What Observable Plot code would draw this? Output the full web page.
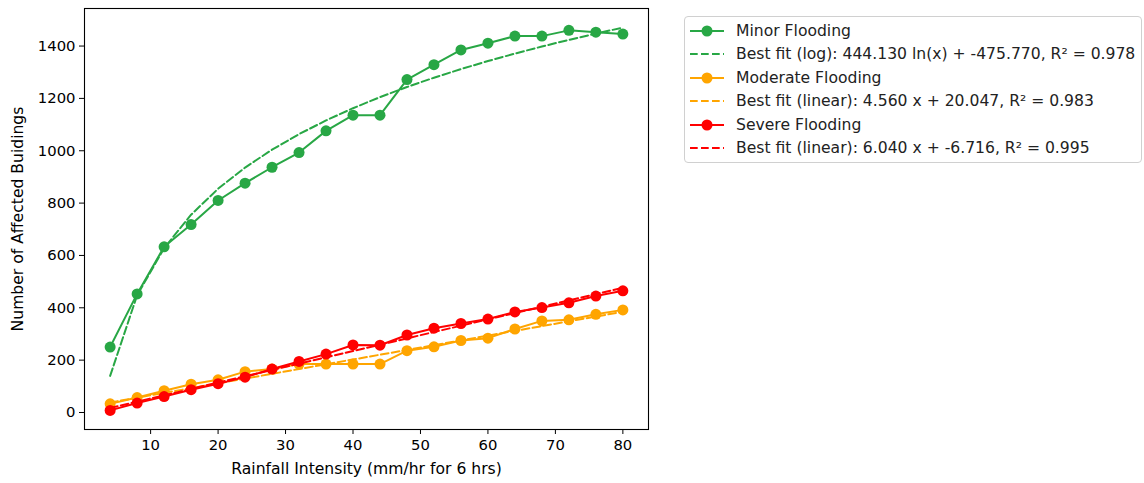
<!DOCTYPE html>
<html>
<head>
<meta charset="utf-8">
<script src="https://cdn.jsdelivr.net/npm/d3@7"></script>
<script src="https://cdn.jsdelivr.net/npm/@observablehq/plot@0.6"></script>
<style>
  html, body { margin: 0; padding: 0; background: #fff; }
  #wrap { position: relative; width: 1144px; height: 483px; overflow: hidden; font-family: "DejaVu Sans", sans-serif; }
  #legend {
    position: absolute; left: 684px; top: 16px; width: 458px; height: 147px;
    border: 1px solid #d0d0d0; border-radius: 4px; background: rgba(255,255,255,0.8);
    box-sizing: border-box; font-size: 15.6px; color: #222; overflow: hidden; white-space: nowrap;
  }
  .row { position: absolute; left: 0; height: 20px; display: flex; align-items: center; }
  .row svg { margin-left: 5px; margin-right: 12px; flex: none; }
</style>
</head>
<body>
<div id="wrap"><div id="chart"></div><div id="legend"></div></div>
<script>
// Data
const rainfall = [4, 8, 12, 16, 20, 24, 28, 32, 36, 40, 44, 48, 52, 56, 60, 64, 68, 72, 76, 80];
const minorFlooding = [250, 453, 633, 718, 810, 876, 937, 993, 1076, 1136, 1136, 1272, 1329, 1385, 1411, 1438, 1438, 1460, 1453, 1446];
const moderateFlooding = [33, 57, 83, 108, 125, 156, 166, 185, 185, 185, 185, 236, 251, 275, 284, 319, 350, 354, 375, 392];
const severeFlooding = [8, 36, 61, 87, 110, 135, 166, 195, 223, 258, 257, 296, 322, 340, 357, 384, 401, 419, 445, 465];

// Fit coefficients as stated in the legend
const minorLogFit = [444.130, -475.770];
const moderateLinFit = [4.560, 20.047];
const severeLinFit = [6.040, -6.716];

const seriesNames = ["Minor Flooding", "Moderate Flooding", "Severe Flooding"];
const fitLabels = [
  "Best fit (log): 444.130 ln(x) + -475.770, R\u00B2 = 0.978",
  "Best fit (linear): 4.560 x + 20.047, R\u00B2 = 0.983",
  "Best fit (linear): 6.040 x + -6.716, R\u00B2 = 0.995"
];
const colors = ["#28a745", "#ffa500", "#ff0000"];
const xTicks = [10, 20, 30, 40, 50, 60, 70, 80];
const yTicks = [0, 200, 400, 600, 800, 1000, 1200, 1400];

const seriesValues = [minorFlooding, moderateFlooding, severeFlooding];
const obs = seriesValues.map(vals => rainfall.map((x, i) => ({x, y: vals[i]})));
const fits = [
  rainfall.map(x => ({x, y: minorLogFit[0] * Math.log(x) + minorLogFit[1]})),
  rainfall.map(x => ({x, y: moderateLinFit[0] * x + moderateLinFit[1]})),
  rainfall.map(x => ({x, y: severeLinFit[0] * x + severeLinFit[1]}))
];

const dash = "7.7,3.3";
const tickFont = 14.8;
const labelFont = 15.6;
const marks = [
  Plot.axisX({ticks: xTicks, tickSize: 5, tickPadding: 5, label: null, fontSize: tickFont}),
  Plot.axisY({ticks: yTicks, tickSize: 5, tickPadding: 4, label: null, tickFormat: d => String(d), fontSize: tickFont}),
];
for (let k = 0; k < 3; k++) {
  marks.push(Plot.line(obs[k], {x: "x", y: "y", stroke: colors[k], strokeWidth: 2}));
  marks.push(Plot.dot(obs[k], {x: "x", y: "y", fill: colors[k], r: 5.5, stroke: null}));
  marks.push(Plot.line(fits[k], {x: "x", y: "y", stroke: colors[k], strokeWidth: 2, strokeDasharray: dash}));
}
marks.push(Plot.frame({stroke: "#000", strokeWidth: 1.1}));
marks.push(Plot.text(["Number of Affected Buidings"], {frameAnchor: "left", textAnchor: "middle", dx: -67, rotate: -90, fontSize: labelFont, fill: "#000"}));
marks.push(Plot.text(["Rainfall Intensity (mm/hr for 6 hrs)"], {frameAnchor: "bottom", dy: 44, fontSize: labelFont, fill: "#000"}));

const chart = Plot.plot({
  width: 1144, height: 483,
  marginLeft: 84, marginRight: 496, marginTop: 8, marginBottom: 54,
  style: {fontFamily: "DejaVu Sans", fontSize: tickFont + "px", color: "#000", background: "transparent"},
  x: {domain: [0.2, 83.8]},
  y: {domain: [-65, 1543.5]},
  marks
});
document.getElementById("chart").appendChild(chart);

// Legend
const legend = document.getElementById("legend");
const rowsTops = [4, 27, 51, 74, 98, 121];
let r = 0;
for (let k = 0; k < 3; k++) {
  const entries = [
    {label: seriesNames[k], dashed: false},
    {label: fitLabels[k], dashed: true}
  ];
  for (const e of entries) {
    const row = document.createElement("div");
    row.className = "row";
    row.style.top = rowsTops[r++] + "px";
    const svg = `<svg width="34" height="14" viewBox="0 0 34 14">
      <line x1="0" y1="7" x2="34" y2="7" stroke="${colors[k]}" stroke-width="2" ${e.dashed ? `stroke-dasharray="${dash}"` : ""}/>
      ${e.dashed ? "" : `<circle cx="17" cy="7" r="5.5" fill="${colors[k]}"/>`}
    </svg>`;
    row.innerHTML = svg + `<span>${e.label}</span>`;
    legend.appendChild(row);
  }
}
</script>
</body>
</html>
